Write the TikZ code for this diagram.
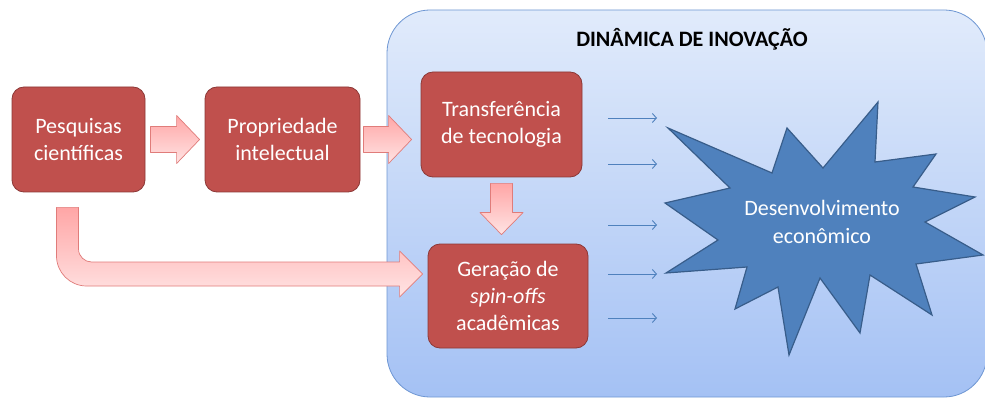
\documentclass[tikz,border=0pt]{standalone}
\usepackage{fontspec}
\setmainfont{Carlito}
\usetikzlibrary{calc,arrows.meta}

\definecolor{caixafundo}{HTML}{C0504D}
\definecolor{caixaborda}{HTML}{8C3836}
\definecolor{setatopo}{HTML}{FFA6A6}
\definecolor{setabase}{HTML}{FFE4E4}
\definecolor{setaborda}{HTML}{E07C7A}
\definecolor{painelalto}{HTML}{E1EBFB}
\definecolor{painelbaixo}{HTML}{A4C1F4}
\definecolor{painelborda}{HTML}{6F97D3}
\definecolor{estrela}{HTML}{4F81BD}
\definecolor{estrelaborda}{HTML}{385D8A}

\tikzset{
	caixa/.style={draw=caixaborda, fill=caixafundo, line width=0.8pt, rounded corners=12pt, text=white, align=center, inner sep=0pt, font=\fontsize{22}{27}\selectfont},
	setabloco/.style={draw=setaborda, line width=0.7pt, top color=setatopo, bottom color=setabase, line join=round},
	setafina/.style={draw=estrela, line width=0.9pt, -{Straight Barb[length=4pt,width=9pt]}},
}

\begin{document}
\begin{tikzpicture}[x=1pt,y=-1pt]
		\useasboundingbox (0,0) rectangle (985,398);
		\fill[white] (0,0) rectangle (985,398);
		\shade[draw=painelborda, line width=0.8pt, top color=painelalto, bottom color=painelbaixo, rounded corners=43pt] (387,10) rectangle (987,397);
		\node[font=\bfseries\fontsize{22}{26}\selectfont] (titulo) at (692,39) {DINÂMICA DE INOVAÇÃO};

		\node[caixa, minimum width=133pt, minimum height=105pt] (pesq) at (78.5,139.5) {Pesquisas\\científicas};
		\node[caixa, minimum width=155pt, minimum height=105pt] (prop) at (282.5,139.5) {Propriedade\\intelectual};
		\node[caixa, minimum width=161pt, minimum height=105pt] (trans) at (501.5,124.5) {Transferência\\de tecnologia};
		\node[caixa, minimum width=160pt, minimum height=104pt] (gera) at (508,296) {Geração de\\\textit{spin-offs}\\acadêmicas};

		\coordinate (a1s) at ($(pesq.east)+(5,0)$);
		\coordinate (a1e) at ($(prop.west)+(-5,0)$);
		\shade[setabloco] ($(a1s)+(0,-13)$) -- ($(a1e)+(-23,-13)$) -- ($(a1e)+(-23,-24)$) -- (a1e) -- ($(a1e)+(-23,24)$) -- ($(a1e)+(-23,13)$) -- ($(a1s)+(0,13)$) -- cycle;
		\coordinate (a2s) at ($(prop.east)+(3,0)$);
		\coordinate (a2e) at ($(trans.west |- prop.east)+(-9,0)$);
		\shade[setabloco] ($(a2s)+(0,-13)$) -- ($(a2e)+(-23,-13)$) -- ($(a2e)+(-23,-24)$) -- (a2e) -- ($(a2e)+(-23,24)$) -- ($(a2e)+(-23,13)$) -- ($(a2s)+(0,13)$) -- cycle;
		\coordinate (a3s) at ($(trans.south)+(0,6)$);
		\coordinate (a3e) at ($(trans.south |- gera.north)+(0,-9)$);
		\shade[setabloco] ($(a3s)+(-11,0)$) -- ($(a3e)+(-11,-22)$) -- ($(a3e)+(-21.5,-22)$) -- (a3e) -- ($(a3e)+(21.5,-22)$) -- ($(a3e)+(11,-22)$) -- ($(a3s)+(11,0)$) -- cycle;
		\coordinate (b0) at ($(pesq.south)+(-11,15)$);
		\coordinate (b1) at ($(gera.west)+(-5,-22)$);
		\coordinate (bc) at (b0 |- b1);
		\shade[setabloco] ($(b0)+(-11,0)$) -- ($(bc)+(-11,-18)$) .. controls ($(bc)+(-11,-1.5)$) and ($(bc)+(2.5,12)$) .. ($(bc)+(19,12)$) -- ($(b1)+(-23,12)$) -- ($(b1)+(-23,23)$) -- (b1) -- ($(b1)+(-23,-23)$) -- ($(b1)+(-23,-12)$) -- ($(bc)+(24,-12)$) .. controls ($(bc)+(17.4,-12)$) and ($(bc)+(11,-17.4)$) .. ($(bc)+(11,-25)$) -- ($(b0)+(11,0)$) -- cycle;

		\foreach \y [count=\i] in {118,164,225,274,318} {
			\coordinate (fs\i) at (608,\y);
			\coordinate (fe\i) at (657,\y);
			\draw[setafina] (fs\i) -- (fe\i);
		}

		\draw[fill=estrela, draw=estrelaborda, line width=1.2pt, line join=miter] (668,128) -- (772,173) -- (787,128) -- (823,168) -- (878,102) -- (875,162) -- (936,154) -- (913,187) -- (975,197) -- (925,222) -- (983,255) -- (916,264) -- (932,315) -- (870,275) -- (860,333) -- (820,278) -- (789,355) -- (778,287) -- (735,309) -- (747,267) -- (666,273) -- (718,240) -- (665,203) -- (730,188) -- cycle;
		\node[text=white, align=center, font=\fontsize{22}{28}\selectfont] (desenv) at (822,222) {Desenvolvimento\\econômico};
\end{tikzpicture}
\end{document}
